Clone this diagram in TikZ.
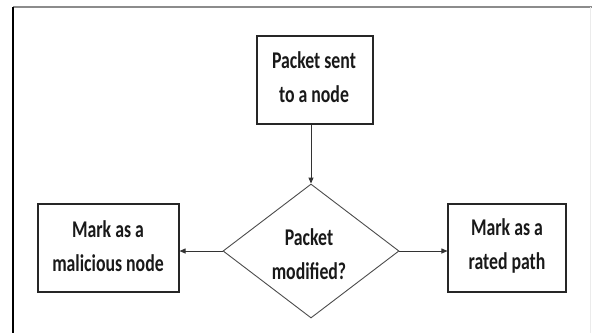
\documentclass[tikz,border=0pt]{standalone}
\usepackage{fontspec}
\setmainfont{Carlito}[FakeStretch=0.74]
\usetikzlibrary{shapes.geometric,arrows.meta}
\begin{document}
\begin{tikzpicture}[x=1pt,y=-1pt,
  box/.style={draw=black!85,line width=1.1pt,fill=white,inner sep=0pt},
  dia/.style={draw=black!70,line width=0.9pt,diamond,inner sep=0pt},
  lbl/.style={font=\fontsize{24}{34}\selectfont\bfseries,align=center,text=black!90},
  conn/.style={draw=black!80,line width=0.9pt,-{Triangle[length=6pt,width=5pt]}}]
\useasboundingbox (0,0) rectangle (592,333);
\fill[white] (0,0) rectangle (592,333);
% frame
\draw[black!45,line width=1.2pt] (13,7) -- (592,7);
\draw[black,line width=1.2pt] (13,7) -- (13,333);
\draw[black!8,line width=0.8pt] (590,7) -- (590,333);
% nodes
\node[box,minimum width=116pt,minimum height=88pt] (top) at (315,80) {};
\node[lbl] (toptxt) at (314,77) {Packet sent\\to a node};
\node[box,minimum width=141pt,minimum height=88pt] (left) at (108.5,248) {};
\node[lbl] (lefttxt) at (108,246) {Mark as a\\malicious node};
\node[box,minimum width=118pt,minimum height=88pt] (right) at (507,248) {};
\node[lbl] (righttxt) at (507,246) {Mark as a\\rated path};
\node[dia,minimum width=176pt,minimum height=134pt,aspect=1.31] (d) at (311,251) {};
\node[lbl] (dtxt) at (309,254) {Packet\\modified?};
% connectors
\draw[conn] (top.south -| d.north) -- (d.north);
\draw[conn] (d.west) -- (left.east |- d.west);
\draw[conn] (d.east) -- (right.west |- d.east);
\end{tikzpicture}
\end{document}
